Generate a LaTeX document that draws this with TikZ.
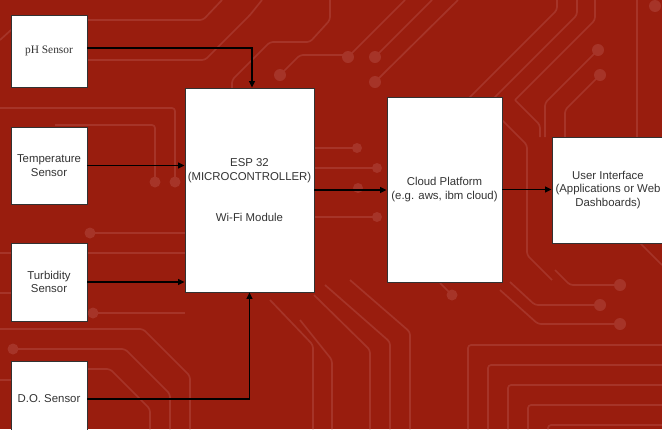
\documentclass[tikz,border=0pt]{standalone}
\usepackage{fontspec}
\setmainfont{Liberation Sans}
\newfontfamily\serifbox{Liberation Serif}
\usetikzlibrary{arrows.meta}
\definecolor{bgred}{RGB}{153,29,14}
\definecolor{trace}{RGB}{166,52,40}
\definecolor{boxline}{RGB}{50,50,50}
\tikzset{
  blk/.style={draw=boxline, line width=0.9pt, fill=white, inner sep=1pt, align=center,
    text=black!80, font=\fontsize{11.4}{13.6}\selectfont},
  arr/.style={draw=black, line width=1.1pt, -{Triangle[length=6.5pt,width=6pt]}},
  tr/.style={draw=trace, line width=1.7pt, line join=round, rounded corners=3pt},
  dot/.style={fill=trace}
}
\begin{document}
\begin{tikzpicture}[x=1pt,y=-1pt]
\useasboundingbox (0,0) rectangle (662,429);
\clip (0,0) rectangle (662,429);
\fill[bgred] (0,0) rectangle (662,429);
% ---- background circuit traces ----
% top left
\draw[tr] (87,20) -- (203,20) -- (222,0);
\draw[tr] (87,60) -- (205,60) -- (250,15) -- (262,0);
\draw[tr] (0,108) -- (175,108) -- (175,180);
\draw[tr] (55,125) -- (155,125) -- (155,180);
\fill[dot] (175,182) circle (5.5);
\fill[dot] (155,182) circle (5.5);
\draw[tr] (0,40) -- (11,30);
\draw[tr] (232,120) -- (232,80) -- (270,42) -- (310,42) -- (330,20) -- (330,0);
\fill[dot] (280,75) circle (6);
\draw[tr] (280,75) -- (300,55) -- (345,55);
% lower left
\fill[dot] (90,233) circle (5.5);
\draw[tr] (90,233) -- (185,233);
\draw[tr] (0,253) -- (185,253);
\draw[tr] (0,293) -- (11,293);
\fill[dot] (93,313) circle (5.5);
\draw[tr] (93,313) -- (185,313);
\draw[tr] (0,329) -- (143,329) -- (190,376) -- (190,429);
\fill[dot] (13,349) circle (5.5);
\draw[tr] (13,349) -- (125,349) -- (170,394) -- (170,429);
\draw[tr] (87,369) -- (110,369) -- (150,409) -- (150,429);
\draw[tr] (0,380) -- (11,380);
% lower middle diagonals
\draw[tr] (350,280) -- (410,332) -- (410,429);
\draw[tr] (325,285) -- (390,342) -- (390,429);
\draw[tr] (314,295) -- (370,350) -- (370,429);
\draw[tr] (300,320) -- (332,360) -- (332,429);
\draw[tr] (270,300) -- (313,345) -- (313,429);
% lower right
\fill[dot] (452,295) circle (5.5);
\draw[tr] (452,295) -- (440,283);
\draw[tr] (510,282) -- (535,305) -- (600,305);
\fill[dot] (600,305) circle (6);
\draw[tr] (500,290) -- (538,324) -- (620,324);
\fill[dot] (620,324) circle (6);
\draw[tr] (555,270) -- (570,285) -- (620,285);
\fill[dot] (620,285) circle (6);
\foreach \i in {0,...,4}{
  \draw[tr] (468+20*\i,429) -- (468+20*\i,345+20*\i) -- (662,345+20*\i);
}
% top right
\fill[dot] (348,57) circle (6);
\fill[dot] (375,57) circle (6);
\fill[dot] (375,82) circle (6);
\draw[tr] (348,57) -- (405,0);
\draw[tr] (375,57) -- (432,0);
\draw[tr] (375,82) -- (458,0);
\draw[tr] (557,0) -- (557,10) -- (467,100);
\draw[tr] (577,0) -- (577,15) -- (492,100);
\draw[tr] (595,0) -- (595,20) -- (515,100);
\fill[dot] (598,50) circle (6);
\fill[dot] (600,75) circle (6);
\draw[tr] (598,50) -- (545,103) -- (545,137);
\draw[tr] (600,75) -- (565,110) -- (565,137);
\draw[tr] (637,0) -- (637,137);
\fill[dot] (655,6) circle (6);
% middle right
\draw[tr] (502,120) -- (527,145) -- (527,255) -- (552,280);
\draw[tr] (515,100) -- (540,125) -- (540,137);
\fill[dot] (357,148) circle (5);
\fill[dot] (377,168) circle (5);
\fill[dot] (358,188) circle (5);
\fill[dot] (377,217) circle (5);
\draw[tr] (314,148) -- (357,148);
\draw[tr] (314,168) -- (377,168);
\draw[tr] (314,217) -- (377,217);
\draw[tr] (640,243) -- (662,265);
% ---- main diagram ----
\node[blk, minimum width=76pt, minimum height=72pt, font=\serifbox\fontsize{11.4}{13.6}\selectfont] (ph) at (49,51) {pH Sensor};
\node[blk, minimum width=76pt, minimum height=77pt] (temp) at (49,165.5) {Temperature\\Sensor};
\node[blk, minimum width=76pt, minimum height=78pt] (turb) at (49,282) {Turbidity\\Sensor};
\node[blk, minimum width=76pt, minimum height=76pt] (do) at (49,399) {D.O. Sensor};
\node[blk, minimum width=129pt, minimum height=204pt] (esp) at (249.5,190)
  {ESP 32\\(MICROCONTROLLER)\\[27pt]Wi-Fi Module};
\node[blk, minimum width=115pt, minimum height=185pt] (cloud) at (444.5,189.5)
  {Cloud Platform\\(e.g. aws, ibm cloud)};
\node[blk, minimum width=112pt, minimum height=106pt] (ui) at (608,190)
  {User Interface\\(Applications or Web\\Dashboards)};
% ---- connectors ----
\draw[arr] ([yshift=3pt]ph.east) -| ([xshift=2.5pt]esp.north);
\draw[arr] (temp.east) -- (temp.east -| esp.west);
\draw[arr] (turb.east) -- (turb.east -| esp.west);
\draw[arr] (do.east) -| (esp.south);
\draw[arr] (esp.east) -- (esp.east -| cloud.west);
\draw[arr] (cloud.east) -- (cloud.east -| ui.west);
\end{tikzpicture}
\end{document}
